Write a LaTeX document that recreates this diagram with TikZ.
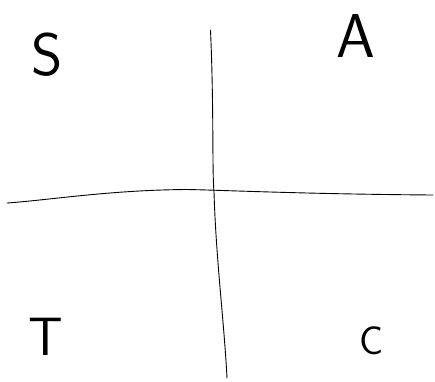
\documentclass[tikz,border=0pt]{standalone}
\begin{document}
\begin{tikzpicture}[x=1pt,y=-1pt,
  axis/.style={line width=0.9pt,black,line cap=round},
  lbl/.style={inner sep=0pt,font=\sffamily\fontsize{#1}{#1}\selectfont},
]
\useasboundingbox (0,0) rectangle (435,381);
% vertical line
\coordinate (vt) at (210.5,30);
\coordinate (vb) at (227,378);
\draw[axis] (vt) .. controls (214,110) and (212,170) .. (214,192)
  .. controls (216,260) and (224,320) .. (vb);
% horizontal line
\coordinate (hl) at (7,203);
\coordinate (hr) at (433,195);
\draw[axis] (hl) .. controls (50,200) and (110,190) .. (187,189.5)
  .. controls (220,190) and (300,194) .. (hr);
% quadrant labels
\node[lbl=60] (s) at (47,55) {S};
\node[lbl=62] (a) at (356,36) {A};
\node[lbl=54] (t) at (46,337) {T};
\node[lbl=40] (c) at (372,341) {C};
\end{tikzpicture}
\end{document}
